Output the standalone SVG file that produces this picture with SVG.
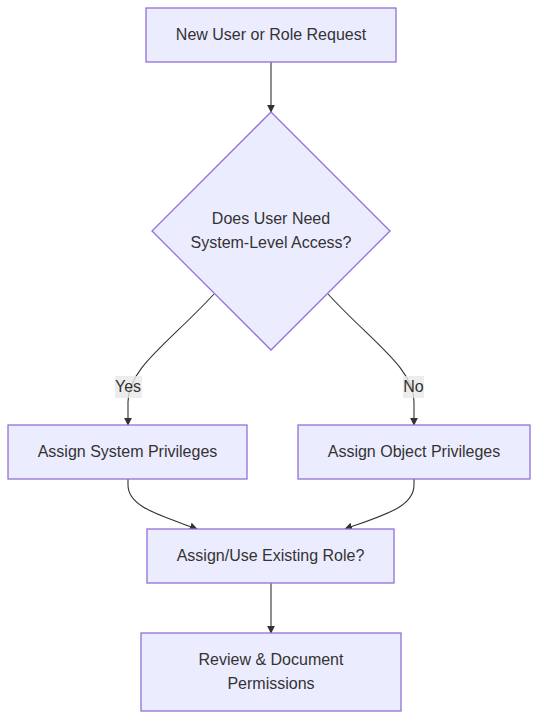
<svg xmlns="http://www.w3.org/2000/svg" width="538" height="719" viewBox="0 0 538 719">
<defs>
<style>
.node rect,.node polygon{fill:#ECECFF;stroke:#9370DB;stroke-width:1.3}
text{font-family:"Liberation Sans",Arial,sans-serif;font-size:16px;fill:#333;text-anchor:middle;dominant-baseline:central}
.edge{fill:none;stroke:#333;stroke-width:1.1}
.lbl{fill:rgba(232,232,232,0.8);stroke:none}
</style>
<marker id="arr" viewBox="0 0 10 10" refX="9" refY="5" markerWidth="8" markerHeight="8" markerUnits="userSpaceOnUse" orient="auto">
<path d="M0,0 L10,5 L0,10 z" fill="#333"/>
</marker>
</defs>
<rect width="538" height="719" fill="#fff"/>
<g id="connectors">
<path class="edge" d="M271,62 L271,112" marker-end="url(#arr)"/>
<path class="edge" d="M214,294 C170,342 128,368 128,402 L128,425" marker-end="url(#arr)"/>
<path class="edge" d="M328,294 C372,342 414,368 414,402 L414,425" marker-end="url(#arr)"/>
<path class="edge" d="M128,479 L128,485 C128,507 160,515 197,529" marker-end="url(#arr)"/>
<path class="edge" d="M414,479 L414,485 C414,507 384,515 345,529" marker-end="url(#arr)"/>
<path class="edge" d="M271,583 L271,633" marker-end="url(#arr)"/>
<rect class="lbl" x="115" y="376" width="27" height="22"/>
<text x="128" y="386.5">Yes</text>
<rect class="lbl" x="403" y="376" width="21" height="22"/>
<text x="413.5" y="386.5">No</text>
</g>
<g id="n1" class="node">
<rect x="146" y="8" width="250" height="54"/>
<text x="271" y="34.5">New User or Role Request</text>
</g>
<g id="n2" class="node">
<polygon points="271,112 390,231 271,350 152,231"/>
<text x="271" y="218">Does User Need</text>
<text x="271" y="242">System-Level Access?</text>
</g>
<g id="n3" class="node">
<rect x="8" y="425" width="239" height="54"/>
<text x="127.5" y="451">Assign System Privileges</text>
</g>
<g id="n4" class="node">
<rect x="298" y="425" width="232" height="54"/>
<text x="414" y="451">Assign Object Privileges</text>
</g>
<g id="n5" class="node">
<rect x="147" y="529" width="247" height="54"/>
<text x="270.5" y="555">Assign/Use Existing Role?</text>
</g>
<g id="n6" class="node">
<rect x="141" y="633" width="260" height="78"/>
<text x="271" y="659">Review &amp; Document</text>
<text x="271" y="683">Permissions</text>
</g>
</svg>
